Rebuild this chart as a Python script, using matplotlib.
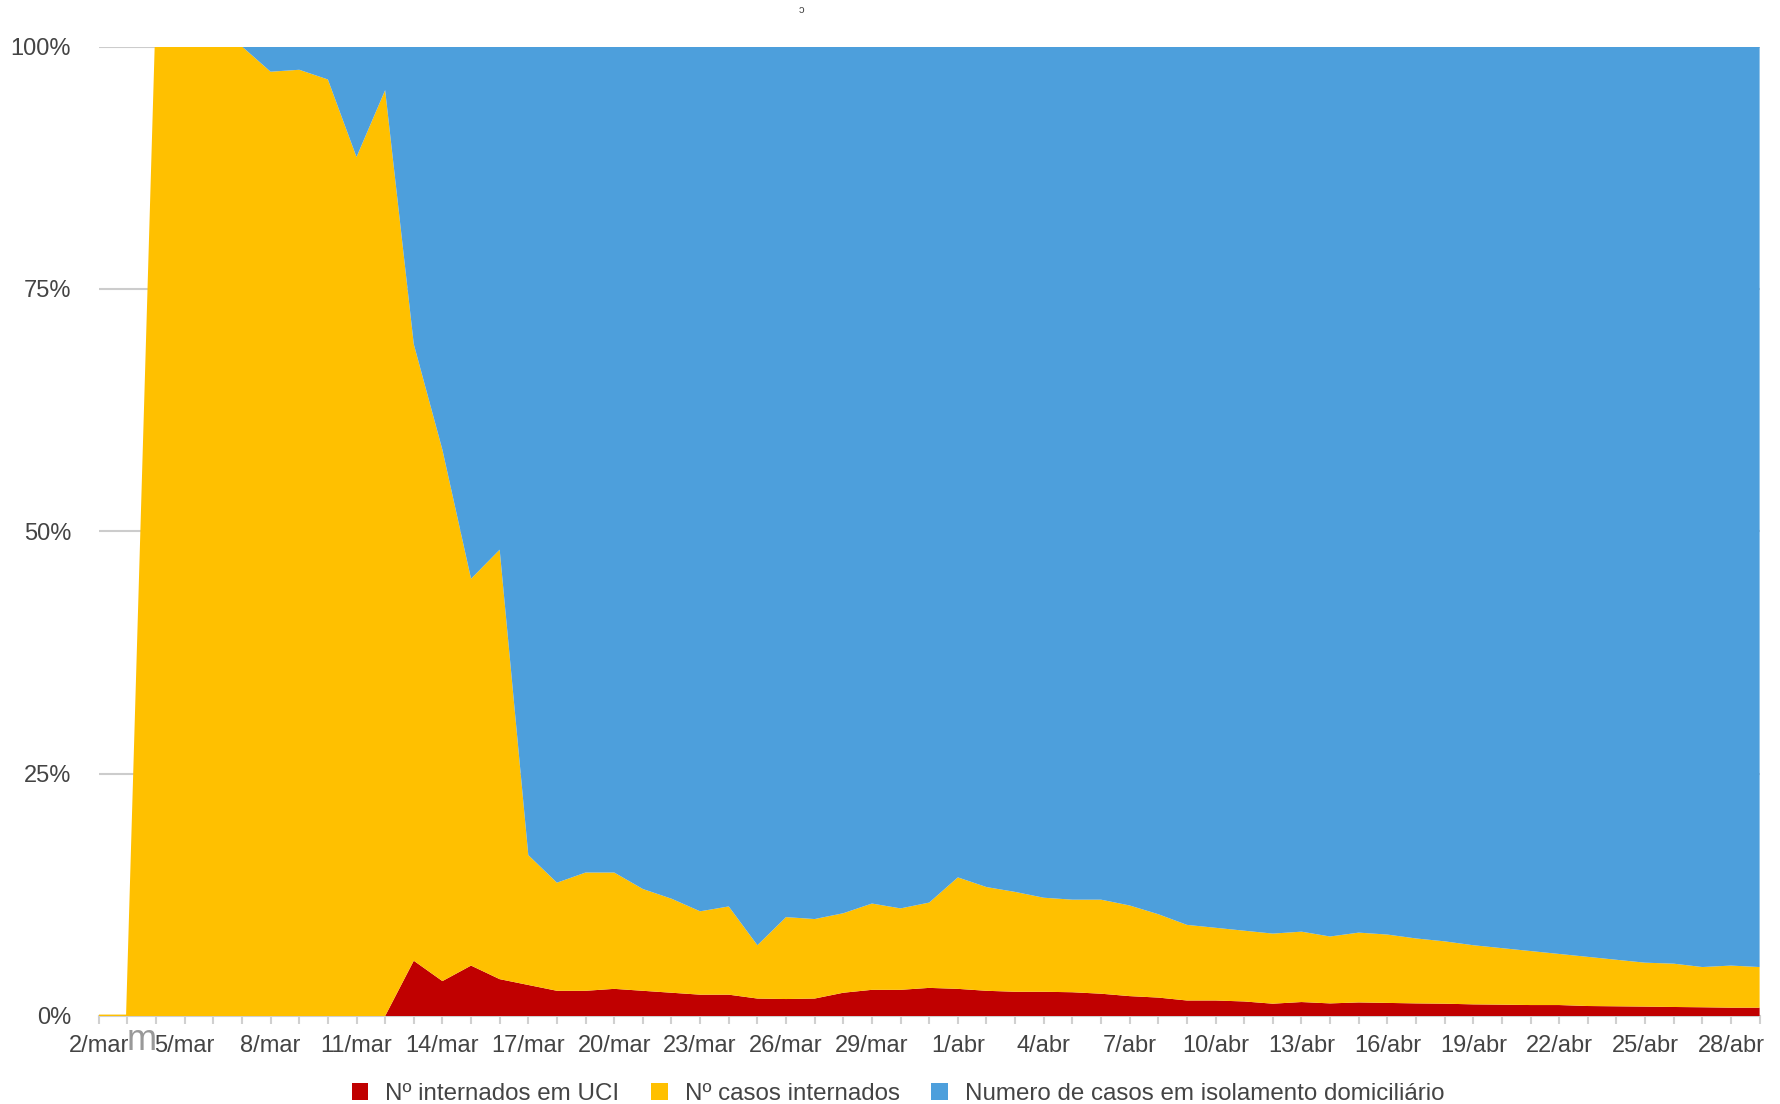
import matplotlib
matplotlib.use('Agg')
import matplotlib.pyplot as plt
from matplotlib.patches import Patch

plt.rcParams['font.family'] = ['Liberation Sans', 'DejaVu Sans']

# categories: one point per day, 2/mar .. 29/abr
days = [f'{d}/mar' for d in range(2, 32)] + [f'{d}/abr' for d in range(1, 30)]

# shares (%)
uci = [0, 0, 0, 0, 0, 0, 0, 0, 0, 0, 0,
       5.7, 3.6, 5.2, 3.8, 3.2, 2.6, 2.6, 2.8, 2.6, 2.4,
       2.2, 2.2, 1.8, 1.75, 1.8, 2.4, 2.7, 2.7, 2.9, 2.8,
       2.6, 2.5, 2.5, 2.45, 2.3, 2.05, 1.9, 1.6, 1.6, 1.5,
       1.27, 1.44, 1.3, 1.4, 1.35, 1.3, 1.27, 1.2, 1.17, 1.13,
       1.13, 1.03, 1.0, 0.97, 0.93, 0.9, 0.86, 0.86]
internados = [0, 0, 100, 100, 100, 100, 97.4, 97.6, 96.6, 88.6, 95.5,
              63.6, 54.8, 39.9, 44.3, 13.4, 11.15, 12.2, 12.0, 10.5, 9.7,
              8.6, 9.1, 5.5, 8.45, 8.2, 8.2, 8.9, 8.4, 8.8, 11.5,
              10.7, 10.3, 9.7, 9.55, 9.7, 9.35, 8.6, 7.8, 7.5, 7.3,
              7.23, 7.26, 6.9, 7.2, 7.05, 6.7, 6.43, 6.1, 5.83, 5.57,
              5.27, 5.07, 4.8, 4.53, 4.47, 4.15, 4.34, 4.19]
domicilio = [0, 0, 0, 0, 0, 0, 2.6, 2.4, 3.4, 11.4, 4.5,
             30.7, 41.6, 54.9, 51.9, 83.4, 86.25, 85.2, 85.2, 86.9, 87.9,
             89.2, 88.7, 92.7, 89.8, 90.0, 89.4, 88.4, 88.9, 88.3, 85.7,
             86.7, 87.2, 87.8, 88.0, 88.0, 88.6, 89.5, 90.6, 90.9, 91.2,
             91.5, 91.3, 91.8, 91.4, 91.6, 92.0, 92.3, 92.7, 93.0, 93.3,
             93.6, 93.9, 94.2, 94.5, 94.6, 94.95, 94.8, 94.95]

names = ['Nº internados em UCI', 'Nº casos internados',
         'Numero de casos em isolamento domiciliário']
colors = ['#c00000', '#ffc000', '#4d9fdc']
txt = '#444444'

fig = plt.figure(figsize=(17.8, 11.04), dpi=100)
ax = fig.add_axes([98.8 / 1780, 1 - 1016 / 1104, (1759.6 - 98.8) / 1780, (1016 - 46.5) / 1104])

x = list(range(len(days)))
ax.stackplot(x, uci, internados, domicilio, colors=colors, linewidth=0, zorder=2)
top = [a + b for a, b in zip(uci, internados)]
ax.plot(x[:3], top[:3], color=colors[1], lw=2, zorder=3)

ax.set_xlim(0, len(days) - 1)
ax.set_ylim(0, 100)
ax.set_yticks([0, 25, 50, 75, 100])
ax.set_yticklabels(['0%', '25%', '50%', '75%', '100%'])
ax.grid(axis='y', color='#cccccc', lw=1.5, zorder=0)
ax.set_axisbelow(True)

ax.set_xticks(x)
ax.set_xticklabels([d if i % 3 == 0 else '' for i, d in enumerate(days)])
ax.tick_params(axis='x', length=6, width=1.5, color='#d0d0d0', pad=7.5, labelsize=17, labelcolor=txt)
ax.tick_params(axis='y', length=0, pad=20, labelsize=17, labelcolor=txt)
for s in ['top', 'right', 'left']:
    ax.spines[s].set_visible(False)
ax.spines['bottom'].set_color('#d0d0d0')
ax.spines['bottom'].set_linewidth(1.5)
ax.spines['bottom'].set_zorder(1)

# stray glyphs visible in the original
fig.text(142 / 1780, 1 - 1040 / 1104, 'm', fontsize=26, color='#999999', ha='center', va='center')
fig.text(801 / 1780, 1 - 10 / 1104, 'ɔ', fontsize=8, color=txt, ha='center', va='center')

handles = [Patch(facecolor=c, edgecolor='none') for c in colors]
fig.legend(handles, names, loc='center', bbox_to_anchor=(0.5045, 1 - 1094 / 1104), ncol=3,
           frameon=False, fontsize=17.4, handlelength=0.7, handleheight=0.7,
           handletextpad=0.7, columnspacing=1.3, labelcolor=txt)

fig.savefig('out.png', dpi=100)
